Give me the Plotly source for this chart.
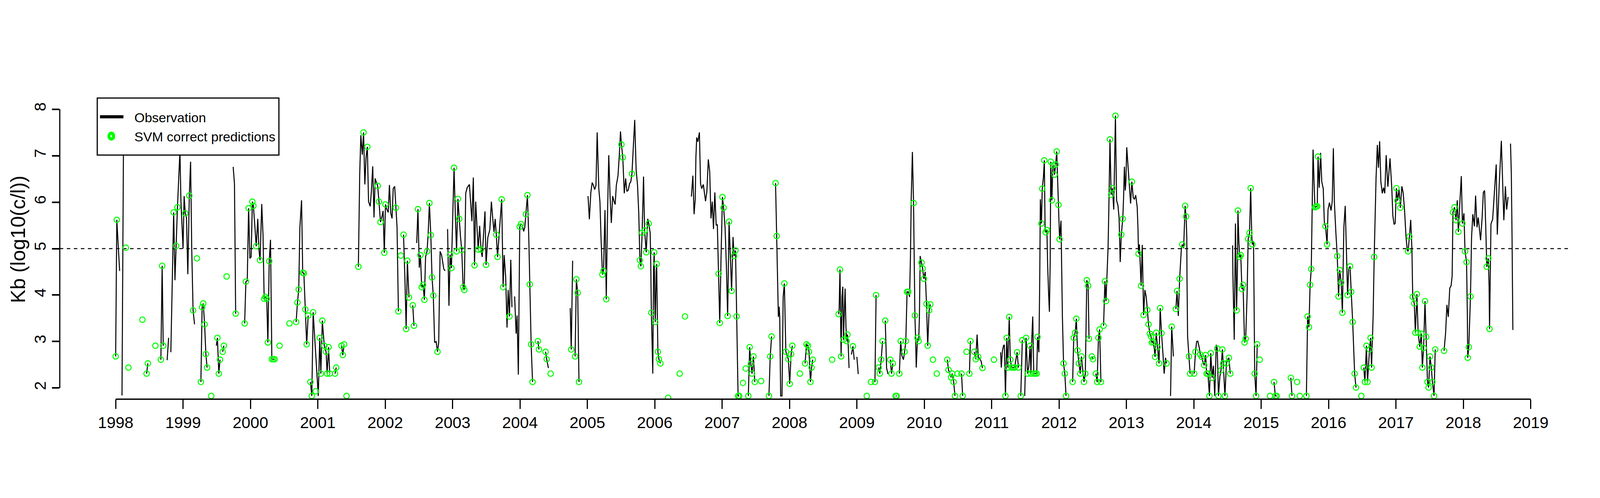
import plotly.graph_objects as go

# Observed Kb series (decimal year, log10 c/l); one sublist per unbroken run
obs_year = [
    [1998.000, 1998.017, 1998.059],
    [1998.094, 1998.118],
    [1998.459, 1998.478],
    [1998.671, 1998.690, 1998.706],
    [1998.764, 1998.786],
    [1998.819, 1998.861, 1998.880, 1998.898, 1998.917, 1998.954, 1998.969, 1999.000, 1999.016, 1999.033,
     1999.051, 1999.071, 1999.093, 1999.112, 1999.129, 1999.149, 1999.171],
    [1999.265, 1999.283, 1999.300, 1999.320, 1999.339, 1999.357],
    [1999.494, 1999.510, 1999.531, 1999.549],
    [1999.588, 1999.606],
    [1999.744, 1999.763, 1999.771, 1999.781],
    [1999.914, 1999.933, 1999.953, 1999.973, 1999.992, 2000.010, 2000.029, 2000.044, 2000.069, 2000.086,
     2000.109, 2000.126, 2000.143, 2000.168, 2000.187, 2000.204, 2000.222, 2000.242, 2000.259, 2000.279,
     2000.298, 2000.318, 2000.340, 2000.360],
    [2000.678, 2000.698, 2000.717, 2000.734, 2000.759, 2000.776, 2000.793, 2000.815, 2000.835, 2000.857],
    [2000.890, 2000.911, 2000.931, 2001.007, 2001.029, 2001.045, 2001.067, 2001.096, 2001.123, 2001.138,
     2001.160, 2001.177],
    [2001.256, 2001.273],
    [2001.352, 2001.371, 2001.391],
    [2001.602, 2001.622, 2001.639, 2001.660, 2001.679, 2001.698, 2001.716, 2001.735, 2001.753, 2001.778,
     2001.795, 2001.815, 2001.834, 2001.851, 2001.871, 2001.888, 2001.908, 2001.930, 2001.952, 2001.969,
     2001.987, 2002.004, 2002.026, 2002.045, 2002.063, 2002.083, 2002.102, 2002.119, 2002.141, 2002.158,
     2002.176, 2002.196],
    [2002.272, 2002.292, 2002.311, 2002.329, 2002.353],
    [2002.409, 2002.427],
    [2002.468, 2002.486, 2002.506, 2002.523, 2002.542, 2002.562, 2002.582, 2002.599, 2002.621, 2002.638,
     2002.656, 2002.677, 2002.695, 2002.714, 2002.734, 2002.756, 2002.776, 2002.794, 2002.815, 2002.837,
     2002.870, 2002.890],
    [2002.926, 2002.946, 2002.963, 2002.983, 2003.002, 2003.022, 2003.042, 2003.059, 2003.079, 2003.098,
     2003.118, 2003.136, 2003.157, 2003.174, 2003.195, 2003.216, 2003.250, 2003.271, 2003.287,
     2003.308, 2003.326, 2003.343, 2003.363, 2003.380, 2003.402, 2003.422, 2003.439, 2003.461, 2003.481,
     2003.497, 2003.523, 2003.553, 2003.576, 2003.595, 2003.615, 2003.632, 2003.649, 2003.667, 2003.691,
     2003.729, 2003.741, 2003.750, 2003.766, 2003.788, 2003.808, 2003.825, 2003.844, 2003.864, 2003.881],
    [2003.921, 2003.943, 2003.958, 2003.976, 2003.997, 2004.015, 2004.035, 2004.055, 2004.072, 2004.089,
     2004.111, 2004.131, 2004.146, 2004.166, 2004.187],
    [2004.266, 2004.282],
    [2004.380, 2004.397, 2004.422],
    [2004.746, 2004.761, 2004.782],
    [2004.818, 2004.837, 2004.857, 2004.876],
    [2005.010, 2005.030, 2005.052, 2005.072, 2005.091, 2005.108, 2005.128, 2005.146, 2005.170, 2005.187,
     2005.203, 2005.224, 2005.240, 2005.262, 2005.281, 2005.299, 2005.318, 2005.338, 2005.356, 2005.376,
     2005.397, 2005.413, 2005.430, 2005.455, 2005.474, 2005.492, 2005.506, 2005.526, 2005.548, 2005.568,
     2005.587, 2005.607, 2005.627, 2005.645, 2005.662, 2005.682, 2005.703, 2005.724, 2005.745, 2005.763,
     2005.780, 2005.795, 2005.813, 2005.834, 2005.850, 2005.874, 2005.896, 2005.912, 2005.933, 2005.941,
     2005.950, 2005.961, 2005.971, 2005.983, 2005.992, 2006.000, 2006.008, 2006.022, 2006.029, 2006.039,
     2006.047, 2006.062, 2006.084],
    [2006.544, 2006.566, 2006.584, 2006.601, 2006.611, 2006.623, 2006.640, 2006.663, 2006.680, 2006.697,
     2006.721, 2006.737, 2006.754, 2006.774, 2006.795, 2006.816, 2006.835, 2006.854, 2006.872, 2006.892,
     2006.912, 2006.929, 2006.948, 2006.965, 2006.985, 2007.005, 2007.022, 2007.044, 2007.064, 2007.082,
     2007.103, 2007.141, 2007.162, 2007.178, 2007.199, 2007.215, 2007.237, 2007.254],
    [2007.389, 2007.409, 2007.426, 2007.444, 2007.465, 2007.485],
    [2007.695, 2007.714, 2007.734],
    [2007.793, 2007.810, 2007.822, 2007.835, 2007.847, 2007.855, 2007.869, 2007.889, 2007.906, 2007.924,
     2007.946, 2007.983, 2008.003, 2008.024, 2008.042],
    [2008.231, 2008.253, 2008.273, 2008.290, 2008.311, 2008.328, 2008.345],
    [2008.729, 2008.737, 2008.749, 2008.757, 2008.766, 2008.779, 2008.791, 2008.801, 2008.813, 2008.825,
     2008.838, 2008.847, 2008.860, 2008.872, 2008.884],
    [2008.919, 2008.941, 2008.961],
    [2009.000, 2009.020],
    [2009.268, 2009.285],
    [2009.323, 2009.340, 2009.361, 2009.381],
    [2009.421, 2009.441, 2009.462],
    [2009.495, 2009.514, 2009.534],
    [2009.575, 2009.591],
    [2009.630, 2009.650, 2009.667, 2009.691, 2009.708, 2009.726, 2009.745, 2009.762, 2009.782, 2009.795,
     2009.807, 2009.824, 2009.841, 2009.849, 2009.861, 2009.871, 2009.881, 2009.900, 2009.917, 2009.928,
     2009.939, 2009.959, 2009.976, 2009.994, 2010.014, 2010.033, 2010.051, 2010.072, 2010.090],
    [2010.341, 2010.360, 2010.397, 2010.415, 2010.436, 2010.456],
    [2010.553, 2010.570],
    [2010.670, 2010.685],
    [2010.742, 2010.764, 2010.784, 2010.801, 2010.823, 2010.843, 2010.864],
    [2011.133, 2011.143, 2011.160, 2011.176, 2011.188, 2011.205, 2011.224, 2011.239, 2011.261, 2011.277,
     2011.297, 2011.319, 2011.341, 2011.378, 2011.398],
    [2011.432, 2011.455],
    [2011.491, 2011.511, 2011.533, 2011.551, 2011.570, 2011.583, 2011.597, 2011.610, 2011.625, 2011.647,
     2011.669, 2011.681, 2011.701, 2011.714, 2011.723, 2011.739, 2011.751, 2011.768, 2011.782, 2011.793,
     2011.802, 2011.820, 2011.832, 2011.845, 2011.857, 2011.869, 2011.877, 2011.894, 2011.908, 2011.924,
     2011.933, 2011.950, 2011.966, 2011.983, 2011.992, 2012.008, 2012.029, 2012.042, 2012.050, 2012.067,
     2012.086, 2012.104],
    [2012.202, 2012.218, 2012.239, 2012.257, 2012.274, 2012.294, 2012.314, 2012.333, 2012.370, 2012.390,
     2012.412, 2012.432, 2012.445],
    [2012.487, 2012.504],
    [2012.546, 2012.566, 2012.585, 2012.602, 2012.622],
    [2012.661, 2012.681, 2012.697, 2012.714, 2012.728, 2012.739, 2012.756, 2012.773, 2012.793, 2012.812,
     2012.824, 2012.837, 2012.854, 2012.874, 2012.891, 2012.908, 2012.924, 2012.946, 2012.958, 2012.970,
     2012.983, 2012.992, 2013.005, 2013.025, 2013.042, 2013.062, 2013.081, 2013.101, 2013.118, 2013.138,
     2013.160, 2013.171, 2013.180, 2013.193, 2013.210, 2013.218, 2013.235, 2013.247, 2013.255, 2013.274,
     2013.294, 2013.311, 2013.328, 2013.348, 2013.365, 2013.378, 2013.395, 2013.412, 2013.425, 2013.442,
     2013.462, 2013.484, 2013.501, 2013.521, 2013.541, 2013.560, 2013.580, 2013.597],
    [2013.655, 2013.672, 2013.697],
    [2013.734, 2013.751, 2013.770, 2013.790, 2013.815, 2013.829, 2013.849, 2013.861, 2013.871, 2013.886,
     2013.896, 2013.899, 2013.908, 2013.928, 2013.945],
    [2014.005, 2014.025, 2014.042, 2014.059, 2014.081, 2014.097, 2014.118, 2014.138, 2014.155, 2014.176,
     2014.190, 2014.210, 2014.232, 2014.252, 2014.272, 2014.291, 2014.311, 2014.333, 2014.348, 2014.366,
     2014.387, 2014.403, 2014.424, 2014.437, 2014.462, 2014.484, 2014.501, 2014.521, 2014.541],
    [2014.576, 2014.580, 2014.600, 2014.618, 2014.635, 2014.647, 2014.655, 2014.669, 2014.681, 2014.697,
     2014.714, 2014.731, 2014.743, 2014.753, 2014.770, 2014.790, 2014.807, 2014.827, 2014.844, 2014.861,
     2014.869, 2014.886, 2014.894, 2014.904, 2014.924, 2014.941],
    [2015.190, 2015.210, 2015.230],
    [2015.440, 2015.457],
    [2015.671, 2015.689, 2015.709, 2015.726, 2015.743, 2015.756, 2015.770, 2015.787, 2015.798, 2015.815,
     2015.832, 2015.844, 2015.861, 2015.882, 2015.899, 2015.921, 2015.938, 2015.955, 2015.978, 2015.992,
     2016.013, 2016.037, 2016.054, 2016.071, 2016.087, 2016.109, 2016.129, 2016.148, 2016.165, 2016.188,
     2016.205, 2016.227, 2016.247, 2016.266, 2016.282, 2016.299, 2016.319, 2016.336, 2016.358, 2016.387,
     2016.407],
    [2016.523, 2016.539, 2016.562, 2016.578, 2016.608, 2016.624, 2016.638, 2016.661, 2016.677, 2016.689,
     2016.705, 2016.724, 2016.740, 2016.758, 2016.776, 2016.797, 2016.816, 2016.834, 2016.855, 2016.880,
     2016.912, 2016.938, 2016.954, 2016.972, 2016.988, 2017.007, 2017.023, 2017.046, 2017.065, 2017.088,
     2017.108, 2017.127, 2017.150, 2017.168, 2017.180, 2017.200, 2017.219, 2017.237, 2017.249, 2017.272,
     2017.288, 2017.311, 2017.329, 2017.353, 2017.376, 2017.392, 2017.410, 2017.431, 2017.449, 2017.468,
     2017.484, 2017.505, 2017.525, 2017.541, 2017.565, 2017.583],
    [2017.714, 2017.737, 2017.756, 2017.776, 2017.799, 2017.818, 2017.834, 2017.846, 2017.869, 2017.892,
     2017.910, 2017.926, 2017.949, 2017.970, 2017.986, 2018.009, 2018.025, 2018.048, 2018.060, 2018.065,
     2018.081, 2018.106, 2018.122, 2018.141, 2018.164, 2018.182, 2018.203, 2018.221, 2018.256, 2018.279,
     2018.297, 2018.316, 2018.332, 2018.348, 2018.371, 2018.382, 2018.389, 2018.398, 2018.410, 2018.435,
     2018.456, 2018.488, 2018.504, 2018.532, 2018.564, 2018.601, 2018.624, 2018.643, 2018.664],
    [2018.700, 2018.712, 2018.723, 2018.735],
]

obs_kb = [
    [2.68, 5.62, 4.52],
    [1.84, 7.70],
    [2.31, 2.53],
    [2.61, 4.63, 2.91],
    [2.60, 3.08],
    [2.77, 5.78, 4.32, 5.06, 5.89, 7.10, 6.01, 5.00, 6.13, 5.76,
     5.67, 4.45, 6.14, 6.87, 4.99, 3.67, 3.37],
    [2.13, 3.74, 3.82, 3.37, 2.73, 2.44],
    [2.91, 3.08, 2.31, 2.61],
    [2.78, 2.91],
    [6.76, 6.40, 5.20, 3.60],
    [3.39, 4.29, 4.31, 5.87, 4.79, 4.82, 6.01, 5.92, 5.42, 5.05,
     5.64, 4.99, 4.75, 5.96, 5.29, 3.92, 3.96, 3.92, 2.98, 4.73,
     5.19, 2.62, 2.62, 2.62],
    [3.42, 3.84, 4.12, 5.46, 6.04, 4.48, 4.47, 3.69, 2.94, 3.56],
    [2.13, 1.83, 3.63, 1.83, 3.08, 2.31, 3.45, 2.91, 2.78, 2.31,
     2.88, 2.31],
    [2.31, 2.44],
    [2.91, 2.71, 2.94],
    [4.61, 6.61, 7.44, 7.02, 7.50, 6.38, 6.96, 7.19, 6.01, 5.91,
     6.23, 6.77, 5.67, 6.51, 6.42, 6.35, 6.01, 5.57, 5.69, 5.81,
     4.91, 5.95, 5.84, 5.78, 6.37, 5.76, 5.65, 6.29, 6.34, 5.88,
     5.46, 3.65],
    [5.30, 4.39, 3.27, 4.74, 3.95],
    [3.78, 3.34],
    [5.12, 5.85, 4.59, 4.86, 4.17, 4.22, 3.90, 4.82, 4.94, 5.33,
     5.98, 5.29, 4.38, 3.99, 2.98, 3.00, 2.78, 2.98, 4.94, 4.86,
     4.56, 4.52],
    [5.42, 3.77, 4.87, 4.58, 5.67, 6.74, 5.67, 4.94, 6.07, 5.64,
     5.25, 4.97, 4.17, 4.11, 6.19, 6.31, 6.38, 5.93, 5.59,
     6.53, 4.64, 6.01, 5.46, 4.98, 5.49, 4.98, 4.82, 5.29, 5.80,
     4.65, 5.24, 5.41, 6.01, 5.67, 5.36, 5.64, 5.30, 4.82, 5.33,
     6.06, 4.99, 4.17, 4.86, 4.39, 3.30, 4.11, 3.54, 4.76, 3.74],
    [3.97, 3.17, 3.56, 2.29, 5.47, 5.53, 5.50, 5.37, 5.46, 5.74,
     6.15, 5.24, 4.23, 2.94, 2.13],
    [3.01, 2.83],
    [2.78, 2.62, 2.43],
    [3.72, 2.83, 4.74],
    [2.68, 4.34, 4.05, 2.13],
    [6.13, 5.63, 6.21, 6.42, 6.36, 6.27, 6.36, 7.50, 6.29, 6.01,
     5.24, 4.44, 4.52, 5.83, 3.91, 5.71, 7.01, 6.10, 5.55, 6.13,
     6.01, 5.95, 6.36, 6.57, 7.00, 7.52, 7.24, 6.96, 6.19, 6.51,
     6.23, 6.26, 6.40, 6.44, 6.61, 7.17, 7.77, 6.70, 6.36, 5.76,
     4.75, 4.62, 5.34, 6.55, 5.39, 4.92, 5.64, 5.54, 5.33, 4.69,
     3.62, 2.98, 2.31, 4.56, 4.92, 3.96, 3.42, 4.52, 4.67, 3.53,
     2.78, 2.62, 2.53],
    [6.12, 6.57, 5.74, 6.06, 6.96, 7.39, 7.30, 7.50, 6.40, 6.29,
     6.38, 6.19, 6.02, 6.23, 6.92, 6.66, 5.65, 6.01, 5.42, 6.21,
     5.50, 5.52, 4.46, 3.40, 4.86, 6.11, 5.88, 5.46, 4.60, 3.55,
     5.58, 4.09, 5.25, 4.84, 4.96, 3.54, 1.83, 1.83],
    [1.83, 2.88, 2.52, 2.31, 2.68, 2.13],
    [1.83, 2.68, 3.11],
    [6.41, 5.27, 4.47, 3.53, 3.75, 3.53, 1.83, 1.83, 3.96, 4.25,
     2.78, 2.62, 2.09, 2.73, 2.91],
    [2.53, 2.94, 2.91, 2.78, 2.13, 2.44, 2.61],
    [3.59, 3.71, 4.55, 3.38, 2.68, 3.96, 4.18, 3.04, 3.53, 4.14,
     3.32, 3.01, 3.15, 2.90, 2.43],
    [2.72, 2.90, 2.61],
    [2.67, 2.30],
    [2.13, 4.00],
    [2.44, 2.31, 2.61, 3.01],
    [3.45, 2.43, 2.30],
    [2.61, 2.31, 2.53],
    [1.83, 1.83],
    [2.31, 3.01, 2.70, 2.61, 2.78, 3.01, 4.07, 4.07, 3.96, 4.82,
     6.11, 7.08, 5.98, 4.82, 3.56, 3.10, 2.44, 3.08, 3.01, 3.53,
     4.84, 4.70, 4.57, 4.35, 4.50, 3.81, 2.91, 3.67, 3.80],
    [2.61, 2.39, 2.23, 2.31, 2.13, 1.83],
    [2.31, 1.83],
    [2.31, 3.01],
    [2.78, 2.62, 3.15, 2.67, 2.63, 2.58, 2.43],
    [2.77, 2.44, 2.80, 2.91, 2.93, 1.83, 3.08, 2.44, 3.53, 2.61,
     2.44, 2.44, 2.44, 2.77, 2.44],
    [1.83, 3.03],
    [1.83, 3.08, 2.31, 2.46, 2.91, 2.31, 3.10, 3.54, 2.31, 2.31,
     2.31, 3.10, 2.77, 4.39, 6.06, 5.54, 6.29, 6.53, 6.90, 5.44,
     5.35, 5.40, 4.60, 4.04, 3.64, 4.73, 6.87, 6.04, 6.79, 6.79,
     6.59, 6.81, 7.09, 6.31, 5.94, 5.20, 5.60, 4.39, 3.54, 2.53,
     2.31, 1.83],
    [2.13, 3.08, 3.19, 3.49, 2.81, 2.53, 2.31, 2.68, 2.13, 2.31,
     4.32, 4.20, 3.06],
    [2.68, 2.62],
    [2.31, 2.13, 3.08, 3.26, 2.13],
    [3.34, 4.30, 3.87, 4.52, 5.03, 5.84, 7.35, 6.16, 6.30, 5.84,
     6.83, 7.86, 6.04, 5.93, 5.67, 4.71, 5.30, 5.64, 6.10, 6.76,
     6.25, 6.44, 7.18, 6.74, 6.40, 5.97, 6.44, 6.10, 6.06, 6.15,
     5.89, 5.46, 4.89, 5.09, 4.47, 4.20, 5.08, 4.17, 3.57, 4.11,
     3.96, 3.68, 3.37, 3.17, 3.11, 2.98, 3.00, 2.87, 2.67, 3.19,
     2.88, 2.53, 3.72, 3.18, 2.76, 2.31, 2.65, 2.53],
    [1.83, 3.32, 2.68],
    [3.70, 4.09, 3.55, 4.35, 4.99, 5.09, 5.01, 5.50, 5.92, 5.69,
     5.24, 4.39, 3.11, 2.68, 2.31],
    [2.31, 2.78, 3.00, 3.01, 2.87, 2.72, 2.67, 2.55, 2.49, 2.71,
     2.31, 2.31, 1.83, 2.75, 2.22, 2.48, 1.83, 2.93, 2.85, 1.83,
     2.25, 2.38, 2.83, 2.53, 1.83, 2.53, 2.61, 2.65, 2.31],
    [5.07, 4.47, 3.04, 5.54, 3.67, 4.52, 5.82, 5.15, 4.82, 4.86,
     4.13, 4.22, 3.53, 2.98, 3.06, 3.96, 5.21, 5.34, 6.30, 5.24,
     5.09, 5.16, 3.96, 2.31, 1.83, 2.94],
    [2.13, 1.83, 1.83],
    [2.22, 1.83],
    [1.83, 3.54, 3.31, 4.22, 4.56, 5.67, 7.13, 6.31, 5.89, 5.90,
     5.91, 6.98, 6.31, 7.06, 6.44, 6.29, 5.54, 5.48, 5.09, 5.84,
     5.99, 5.82, 6.01, 7.16, 5.97, 5.33, 4.84, 3.97, 4.54, 4.27,
     3.62, 5.46, 5.92, 4.90, 4.00, 4.56, 4.62, 4.07, 3.42, 2.31,
     2.01],
    [2.44, 2.13, 2.91, 2.13, 2.83, 3.08, 2.44, 3.53, 4.82, 5.46,
     6.53, 7.23, 6.74, 7.31, 6.44, 6.19, 6.31, 6.19, 7.01, 6.33,
     6.94, 6.31, 5.71, 5.52, 5.54, 6.30, 6.03, 6.27, 5.88, 6.34,
     6.19, 5.84, 5.24, 4.97, 4.94, 5.26, 5.62, 4.99, 3.96, 3.82,
     3.19, 4.02, 3.19, 2.89, 3.17, 2.44, 2.86, 3.87, 3.10, 2.13,
     2.01, 2.68, 2.44, 2.13, 1.83, 2.83],
    [2.80, 3.19, 3.79, 3.53, 4.15, 4.20, 4.41, 5.78, 5.89, 5.61,
     6.04, 5.36, 6.01, 6.56, 5.54, 5.76, 4.94, 4.71, 3.53, 2.65,
     2.88, 3.97, 5.24, 5.74, 5.48, 6.14, 5.46, 5.67, 5.18, 5.67,
     6.21, 6.25, 5.50, 4.61, 4.79, 4.22, 3.27, 4.39, 5.53, 5.63,
     6.10, 6.81, 5.30, 6.36, 7.32, 5.61, 6.34, 5.84, 6.11],
    [7.26, 6.62, 5.24, 3.25],
]

# SVM correct predictions
svm_year = [
    1998.000, 1998.017, 1998.151, 1998.190, 1998.397, 1998.459, 1998.478, 1998.590, 1998.671, 1998.690,
    1998.706, 1998.861, 1998.898, 1998.917, 1999.033, 1999.093, 1999.149, 1999.206, 1999.265, 1999.283,
    1999.300, 1999.320, 1999.339, 1999.357, 1999.418, 1999.510, 1999.531, 1999.549, 1999.588, 1999.606,
    1999.647, 1999.781, 1999.914, 1999.933, 1999.973, 2000.029, 2000.044, 2000.086, 2000.143, 2000.204,
    2000.222, 2000.242, 2000.259, 2000.279, 2000.318, 2000.340, 2000.360, 2000.432, 2000.579, 2000.678,
    2000.698, 2000.717, 2000.776, 2000.793, 2000.815, 2000.835, 2000.857, 2000.890, 2000.911, 2000.931,
    2000.968, 2001.029, 2001.045, 2001.067, 2001.096, 2001.123, 2001.138, 2001.160, 2001.177, 2001.256,
    2001.273, 2001.352, 2001.371, 2001.391, 2001.426, 2001.602, 2001.679, 2001.735, 2001.888, 2001.908,
    2001.930, 2001.987, 2002.004, 2002.158, 2002.196, 2002.232, 2002.272, 2002.311, 2002.329, 2002.353,
    2002.409, 2002.427, 2002.486, 2002.523, 2002.542, 2002.562, 2002.582, 2002.621, 2002.656, 2002.677,
    2002.695, 2002.714, 2002.776, 2002.963, 2002.983, 2003.022, 2003.059, 2003.079, 2003.098, 2003.136,
    2003.157, 2003.174, 2003.326, 2003.380, 2003.422, 2003.497, 2003.649, 2003.667, 2003.729, 2003.750,
    2003.844, 2003.997, 2004.015, 2004.089, 2004.111, 2004.146, 2004.166, 2004.187, 2004.266, 2004.282,
    2004.380, 2004.397, 2004.455, 2004.761, 2004.818, 2004.837, 2004.857, 2004.876, 2005.224, 2005.240,
    2005.281, 2005.506, 2005.526, 2005.662, 2005.780, 2005.795, 2005.813, 2005.850, 2005.874, 2005.912,
    2005.950, 2005.992, 2006.008, 2006.029, 2006.047, 2006.062, 2006.084, 2006.199, 2006.370, 2006.449,
    2006.948, 2006.965, 2007.005, 2007.022, 2007.082, 2007.103, 2007.141, 2007.178, 2007.199, 2007.215,
    2007.237, 2007.254, 2007.310, 2007.350, 2007.389, 2007.409, 2007.426, 2007.444, 2007.465, 2007.485,
    2007.579, 2007.695, 2007.714, 2007.734, 2007.793, 2007.810, 2007.924, 2007.946, 2007.983, 2008.003,
    2008.024, 2008.042, 2008.155, 2008.231, 2008.253, 2008.273, 2008.290, 2008.311, 2008.328, 2008.345,
    2008.633, 2008.729, 2008.749, 2008.766, 2008.801, 2008.847, 2008.860, 2008.941, 2009.147, 2009.209,
    2009.268, 2009.285, 2009.323, 2009.340, 2009.361, 2009.381, 2009.421, 2009.495, 2009.514, 2009.534,
    2009.575, 2009.591, 2009.630, 2009.650, 2009.708, 2009.726, 2009.745, 2009.762, 2009.841, 2009.861,
    2009.900, 2009.917, 2009.959, 2009.976, 2009.994, 2010.033, 2010.051, 2010.072, 2010.090, 2010.129,
    2010.186, 2010.341, 2010.360, 2010.397, 2010.415, 2010.436, 2010.456, 2010.493, 2010.553, 2010.570,
    2010.628, 2010.670, 2010.685, 2010.742, 2010.764, 2010.801, 2010.864, 2011.034, 2011.205, 2011.224,
    2011.239, 2011.261, 2011.277, 2011.297, 2011.319, 2011.341, 2011.378, 2011.398, 2011.432, 2011.455,
    2011.511, 2011.533, 2011.570, 2011.583, 2011.625, 2011.647, 2011.669, 2011.681, 2011.739, 2011.751,
    2011.782, 2011.802, 2011.820, 2011.877, 2011.894, 2011.908, 2011.933, 2011.950, 2011.966, 2011.992,
    2012.008, 2012.067, 2012.086, 2012.104, 2012.202, 2012.218, 2012.239, 2012.257, 2012.274, 2012.294,
    2012.314, 2012.333, 2012.370, 2012.390, 2012.412, 2012.432, 2012.445, 2012.487, 2012.504, 2012.546,
    2012.566, 2012.585, 2012.602, 2012.622, 2012.661, 2012.681, 2012.697, 2012.756, 2012.773, 2012.793,
    2012.837, 2012.924, 2012.946, 2013.081, 2013.180, 2013.218, 2013.255, 2013.311, 2013.328, 2013.348,
    2013.365, 2013.378, 2013.395, 2013.425, 2013.442, 2013.462, 2013.484, 2013.501, 2013.521, 2013.597,
    2013.672, 2013.734, 2013.751, 2013.790, 2013.829, 2013.871, 2013.886, 2013.928, 2013.945, 2014.005,
    2014.025, 2014.097, 2014.118, 2014.155, 2014.176, 2014.190, 2014.210, 2014.232, 2014.252, 2014.272,
    2014.348, 2014.366, 2014.403, 2014.424, 2014.437, 2014.462, 2014.484, 2014.521, 2014.541, 2014.635,
    2014.655, 2014.681, 2014.697, 2014.714, 2014.731, 2014.753, 2014.770, 2014.807, 2014.827, 2014.844,
    2014.869, 2014.904, 2014.924, 2014.941, 2014.978, 2015.131, 2015.190, 2015.210, 2015.230, 2015.440,
    2015.457, 2015.533, 2015.573, 2015.671, 2015.689, 2015.709, 2015.726, 2015.743, 2015.798, 2015.815,
    2015.832, 2015.844, 2015.955, 2015.978, 2016.129, 2016.148, 2016.165, 2016.188, 2016.205, 2016.282,
    2016.319, 2016.336, 2016.358, 2016.387, 2016.407, 2016.486, 2016.523, 2016.539, 2016.562, 2016.578,
    2016.608, 2016.624, 2016.638, 2016.677, 2017.007, 2017.023, 2017.065, 2017.180, 2017.200, 2017.249,
    2017.272, 2017.288, 2017.311, 2017.329, 2017.353, 2017.376, 2017.392, 2017.410, 2017.431, 2017.449,
    2017.468, 2017.484, 2017.505, 2017.525, 2017.541, 2017.565, 2017.583, 2017.714, 2017.846, 2017.869,
    2017.892, 2017.926, 2017.986, 2018.025, 2018.048, 2018.065, 2018.081, 2018.106, 2018.348, 2018.371,
    2018.389,
]

svm_kb = [
    2.68, 5.62, 5.02, 2.44, 3.47, 2.31, 2.53, 2.91, 2.61, 4.63,
    2.91, 5.78, 5.06, 5.89, 5.76, 6.14, 3.67, 4.79, 2.13, 3.74,
    3.82, 3.37, 2.73, 2.44, 1.83, 3.08, 2.31, 2.61, 2.78, 2.91,
    4.40, 3.60, 3.39, 4.29, 5.87, 6.01, 5.92, 5.05, 4.75, 3.92,
    3.96, 3.92, 2.98, 4.73, 2.62, 2.62, 2.62, 2.91, 3.39, 3.42,
    3.84, 4.12, 4.48, 4.47, 3.69, 2.94, 3.56, 2.13, 1.83, 3.63,
    1.93, 3.08, 2.31, 3.45, 2.91, 2.78, 2.31, 2.88, 2.31, 2.31,
    2.44, 2.91, 2.71, 2.94, 1.83, 4.61, 7.50, 7.19, 6.35, 6.01,
    5.57, 4.91, 5.95, 5.88, 3.65, 4.85, 5.30, 3.27, 4.74, 3.95,
    3.78, 3.34, 5.85, 4.86, 4.17, 4.22, 3.90, 4.94, 5.98, 5.29,
    4.38, 3.99, 2.78, 4.87, 4.58, 6.74, 4.94, 6.07, 5.64, 4.97,
    4.17, 4.11, 4.64, 4.98, 4.98, 4.65, 5.30, 4.82, 6.06, 4.17,
    3.54, 5.47, 5.53, 5.74, 6.15, 4.23, 2.94, 2.13, 3.01, 2.83,
    2.78, 2.62, 2.31, 2.83, 2.68, 4.34, 4.05, 2.13, 4.44, 4.52,
    3.91, 7.24, 6.96, 6.61, 4.75, 4.62, 5.34, 5.39, 4.92, 5.54,
    3.62, 4.92, 3.42, 4.67, 2.78, 2.62, 2.53, 1.79, 2.31, 3.54,
    4.46, 3.40, 6.11, 5.88, 3.55, 5.58, 4.09, 4.84, 4.96, 3.54,
    1.83, 1.83, 2.11, 2.42, 1.83, 2.88, 2.52, 2.31, 2.68, 2.13,
    2.15, 1.83, 2.68, 3.11, 6.41, 5.27, 4.25, 2.78, 2.62, 2.09,
    2.73, 2.91, 2.31, 2.53, 2.94, 2.91, 2.78, 2.13, 2.44, 2.61,
    2.61, 3.59, 4.55, 2.68, 3.04, 3.01, 3.15, 2.90, 1.83, 2.13,
    2.13, 4.00, 2.44, 2.31, 2.61, 3.01, 3.45, 2.61, 2.31, 2.53,
    1.83, 1.83, 2.31, 3.01, 2.78, 3.01, 4.07, 4.07, 5.98, 3.56,
    3.08, 3.01, 4.70, 4.57, 4.35, 3.81, 2.91, 3.67, 3.80, 2.61,
    2.31, 2.61, 2.39, 2.23, 2.31, 2.13, 1.83, 2.31, 2.31, 1.83,
    2.78, 2.31, 3.01, 2.78, 2.62, 2.67, 2.43, 2.61, 1.83, 3.08,
    2.44, 3.53, 2.61, 2.44, 2.44, 2.44, 2.77, 2.44, 1.83, 3.03,
    3.08, 2.31, 2.91, 2.31, 2.31, 2.31, 2.31, 3.10, 5.54, 6.29,
    6.90, 5.35, 5.40, 6.87, 6.04, 6.79, 6.59, 6.81, 7.09, 5.94,
    5.20, 2.53, 2.31, 1.83, 2.13, 3.08, 3.19, 3.49, 2.81, 2.53,
    2.31, 2.68, 2.13, 2.31, 4.32, 4.20, 3.06, 2.68, 2.62, 2.31,
    2.13, 3.08, 3.26, 2.13, 3.34, 4.30, 3.87, 7.35, 6.16, 6.30,
    7.86, 5.30, 5.64, 6.44, 4.89, 4.20, 3.57, 3.68, 3.37, 3.17,
    3.11, 2.98, 3.00, 2.67, 3.19, 2.88, 2.53, 3.72, 3.18, 2.53,
    3.32, 3.70, 4.09, 4.35, 5.09, 5.92, 5.69, 2.68, 2.31, 2.31,
    2.78, 2.72, 2.67, 2.49, 2.71, 2.31, 2.31, 1.83, 2.75, 2.22,
    2.85, 1.83, 2.38, 2.83, 2.53, 1.83, 2.53, 2.65, 2.31, 3.67,
    5.82, 4.82, 4.86, 4.13, 4.22, 2.98, 3.06, 5.21, 5.34, 6.30,
    5.09, 2.31, 1.83, 2.94, 2.61, 1.83, 2.13, 1.83, 1.83, 2.22,
    1.83, 2.13, 1.83, 1.83, 3.54, 3.31, 4.22, 4.56, 5.89, 5.90,
    5.91, 6.98, 5.48, 5.09, 4.84, 3.97, 4.54, 4.27, 3.62, 4.00,
    4.62, 4.07, 3.42, 2.31, 2.01, 1.83, 2.44, 2.13, 2.91, 2.13,
    2.83, 3.08, 2.44, 4.82, 6.30, 6.03, 5.88, 4.94, 5.26, 3.96,
    3.82, 3.19, 4.02, 3.19, 2.89, 3.17, 2.44, 2.86, 3.87, 3.10,
    2.13, 2.01, 2.68, 2.44, 2.13, 1.83, 2.83, 2.80, 5.78, 5.89,
    5.61, 5.36, 5.54, 4.94, 4.71, 2.65, 2.88, 3.97, 4.61, 4.79,
    3.27,
]

year_ticks = list(range(1998, 2020))
kb_ticks = [2, 3, 4, 5, 6, 7, 8]
threshold = 5

# flatten the runs, a None between runs breaks the line
line_x, line_y = [], []
for xs, ys in zip(obs_year, obs_kb):
    line_x += xs + [None]
    line_y += ys + [None]

# R style axis ranges: data range padded by 4 %
all_x = [v for seg in obs_year for v in seg]
x_lo, x_hi = min(all_x), max(all_x)
pad = 0.04 * (x_hi - x_lo)
x_range = [x_lo - pad, x_hi + pad]
y_range = [kb_ticks[0] - 0.04 * 6, kb_ticks[-1] + 0.04 * 6]

# the browser here is only 4096 px wide and the body keeps its 8 px margin,
# so the layout is squeezed horizontally to fit
W, H = 4080, 1259
ML, MR, MT, MB = 145, 72, 243, 245
FONT = "Liberation Sans, Arial, sans-serif"


def px(x):
    return (x - ML) / (W - ML - MR)


def py(y):
    return (H - MB - y) / (H - MT - MB)


fig = go.Figure()

fig.add_trace(go.Scatter(
    x=line_x, y=line_y, mode="lines",
    line=dict(color="black", width=2.6),
    connectgaps=False, showlegend=False, hoverinfo="skip",
))

fig.add_trace(go.Scatter(
    x=svm_year, y=svm_kb, mode="markers",
    marker=dict(symbol="circle-open", size=14, color="#00ff00",
                line=dict(color="#00ff00", width=2.6)),
    showlegend=False,
))

shapes = [
    # threshold
    dict(type="line", xref="paper", yref="y", x0=0, x1=1, y0=threshold, y1=threshold,
         line=dict(color="black", width=2.6, dash="9px,9px"), layer="below"),
    # axis lines only between first and last tick, as R draws them
    dict(type="line", xref="paper", yref="y", x0=0, x1=0, y0=kb_ticks[0], y1=kb_ticks[-1],
         line=dict(color="black", width=3)),
    dict(type="line", xref="x", yref="paper", x0=year_ticks[0], x1=year_ticks[-1], y0=0, y1=0,
         line=dict(color="black", width=3.5)),
    # legend box
    dict(type="rect", xref="paper", yref="paper", x0=px(241), x1=px(706), y0=py(389), y1=py(243),
         fillcolor="white", line=dict(color="black", width=3), layer="above"),
    dict(type="line", xref="paper", yref="paper", x0=px(248), x1=px(308), y0=py(291), y1=py(291),
         line=dict(color="black", width=8), layer="above"),
    dict(type="circle", xref="paper", yref="paper", x0=px(271), x1=px(283), y0=py(348), y1=py(333),
         line=dict(color="#00ff00", width=8), layer="above"),
]

annotations = [
    dict(text="Observation", xref="paper", yref="paper", x=px(334), y=py(292.5),
         xanchor="left", yanchor="middle", showarrow=False,
         font=dict(family=FONT, size=34, color="black")),
    dict(text="SVM correct predictions", xref="paper", yref="paper", x=px(334), y=py(341.5),
         xanchor="left", yanchor="middle", showarrow=False,
         font=dict(family=FONT, size=34, color="black")),
    dict(text="Kb (log10(c/l))", xref="paper", yref="paper", x=px(38), y=py(605),
         xanchor="center", yanchor="middle", textangle=-90, showarrow=False,
         font=dict(family=FONT, size=52, color="black")),
]

fig.update_layout(
    width=W, height=H,
    margin=dict(l=ML, r=MR, t=MT, b=MB, pad=0),
    paper_bgcolor="white", plot_bgcolor="white",
    shapes=shapes, annotations=annotations,
    xaxis=dict(range=x_range, tickvals=year_ticks, ticktext=[str(y) for y in year_ticks],
               ticks="outside", ticklen=24, tickwidth=3, tickcolor="black",
               showline=False, showgrid=False, zeroline=False,
               tickfont=dict(family=FONT, size=41, color="black")),
    yaxis=dict(range=y_range, tickvals=kb_ticks, ticktext=[str(v) for v in kb_ticks],
               tickangle=-90, ticks="outside", ticklen=19, tickwidth=3.5, tickcolor="black",
               showline=False, showgrid=False, zeroline=False,
               tickfont=dict(family=FONT, size=41, color="black")),
)

fig.write_html("out.html")
